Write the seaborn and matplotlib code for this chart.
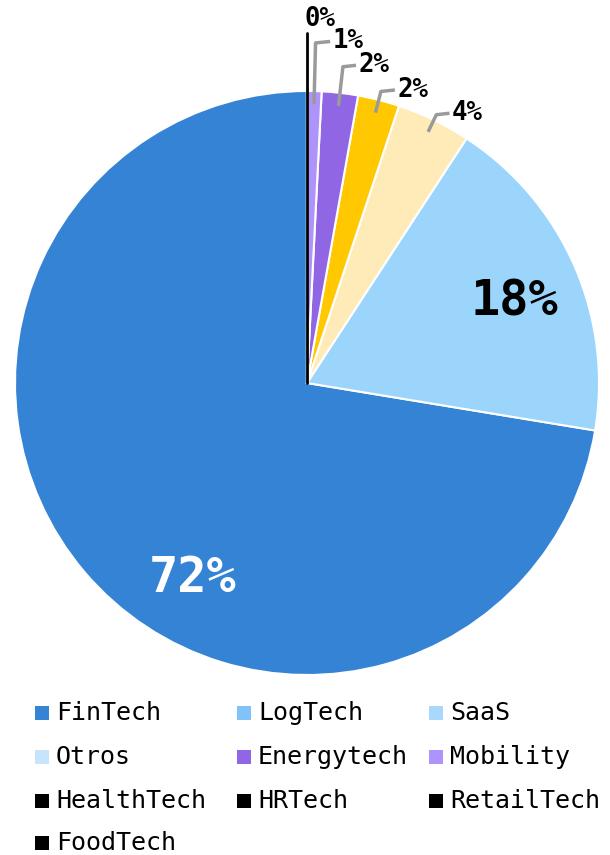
"""
Pie chart of startups by sector with leader-line labels for tiny slices.
"""
import matplotlib.pyplot as plt
import numpy as np
import seaborn as sns
from matplotlib.patches import Rectangle

# data
sectors = ["FinTech", "LogTech", "SaaS", "Otros", "Energytech", "Mobility",
           "HealthTech", "HRTech", "RetailTech", "FoodTech"]
shares = [72.4, 18.4, 4.1, 2.3, 2.0, 0.8, 0.0, 0.0, 0.0, 0.0]
slice_colors = ["#3583d5", "#9cd5fc", "#ffebb7", "#ffc800", "#9166e4",
                "#ae94fa", "#000000", "#000000", "#000000", "#000000"]
legend_colors = ["#3583d5", "#80c2fa", "#a8d8fc", "#c8e4fa", "#9166e4",
                 "#ae94fa", "#000000", "#000000", "#000000", "#000000"]

sns.set_theme(style="white", rc={"text.color": "black"})
plt.rcParams['font.family'] = ['DejaVu Sans Mono', 'DejaVu Sans']

fig = plt.figure(figsize=(6.1, 8.55), dpi=100)
W, H = 610, 855
cx, cy, rad = 307, 383, 292
ax = fig.add_axes([(cx - rad) / W, (H - cy - rad) / H, 2 * rad / W, 2 * rad / H])

wedges, _ = ax.pie(
    shares, colors=slice_colors, startangle=90, counterclock=True,
    wedgeprops={'edgecolor': 'white', 'linewidth': 1.5}
)
ax.set_xlim(-1, 1)
ax.set_ylim(-1, 1)
ax.set_aspect('equal')
ax.axis('off')


def mid_angle(w):
    return np.deg2rad((w.theta1 + w.theta2) / 2)


# big labels inside the slices
ax.text(-0.39, -0.668, f"{round(shares[0])}%", color="white", fontsize=35,
        fontweight="bold", ha="center", va="center")
a = mid_angle(wedges[1])
ax.text(0.775 * np.cos(a), 0.77 * np.sin(a) - 0.03, f"{round(shares[1])}%",
        color="black", fontsize=35, fontweight="bold", ha="center", va="center")

# small slices: leader line goes up from the slice, then a short elbow
# (index, elbow radius, elbow length)
small = [(2, 1.02, 0.045), (3, 1.03, 0.048), (4, 1.09, 0.045),
         (5, 1.165, 0.05)]
for i, r_elbow, elbow_len in small:
    a = mid_angle(wedges[i])
    x0, y0 = 0.955 * np.cos(a), 0.955 * np.sin(a)
    x1, y1 = r_elbow * np.cos(a), r_elbow * np.sin(a)
    ax.plot([x0, x1, x1 + elbow_len], [y0, y1, y1 + 0.005], color="#9a9a9a",
            lw=2.5, clip_on=False, solid_capstyle="butt")
    ax.text(x1 + elbow_len + 0.008, y1 + 0.005, f"{round(shares[i])}%",
            color="black", fontsize=18.5, fontweight="bold", ha="left",
            va="center")

# zero slices all sit at the top: one black line and one label
ax.plot([0, 0], [0, 1.2], color="black", lw=2, clip_on=False)
ax.text(-0.01, 1.245, f"{round(shares[6])}%", color="black", fontsize=18.5,
        fontweight="bold", ha="left", va="center")

# legend, three columns
col_x = [35, 237, 429]
row_y = [713, 757, 801, 843]
sq = 14
for k, (name, col) in enumerate(zip(sectors, legend_colors)):
    x = col_x[k % 3]
    y = row_y[k // 3]
    fig.add_artist(Rectangle((x / W, (H - y - sq / 2) / H), sq / W, sq / H,
                             transform=fig.transFigure, color=col, lw=0))
    fig.text((x + 21) / W, (H - y) / H, name, color="black", fontsize=18,
             ha="left", va="center")

fig.savefig("out.png", dpi=100)
